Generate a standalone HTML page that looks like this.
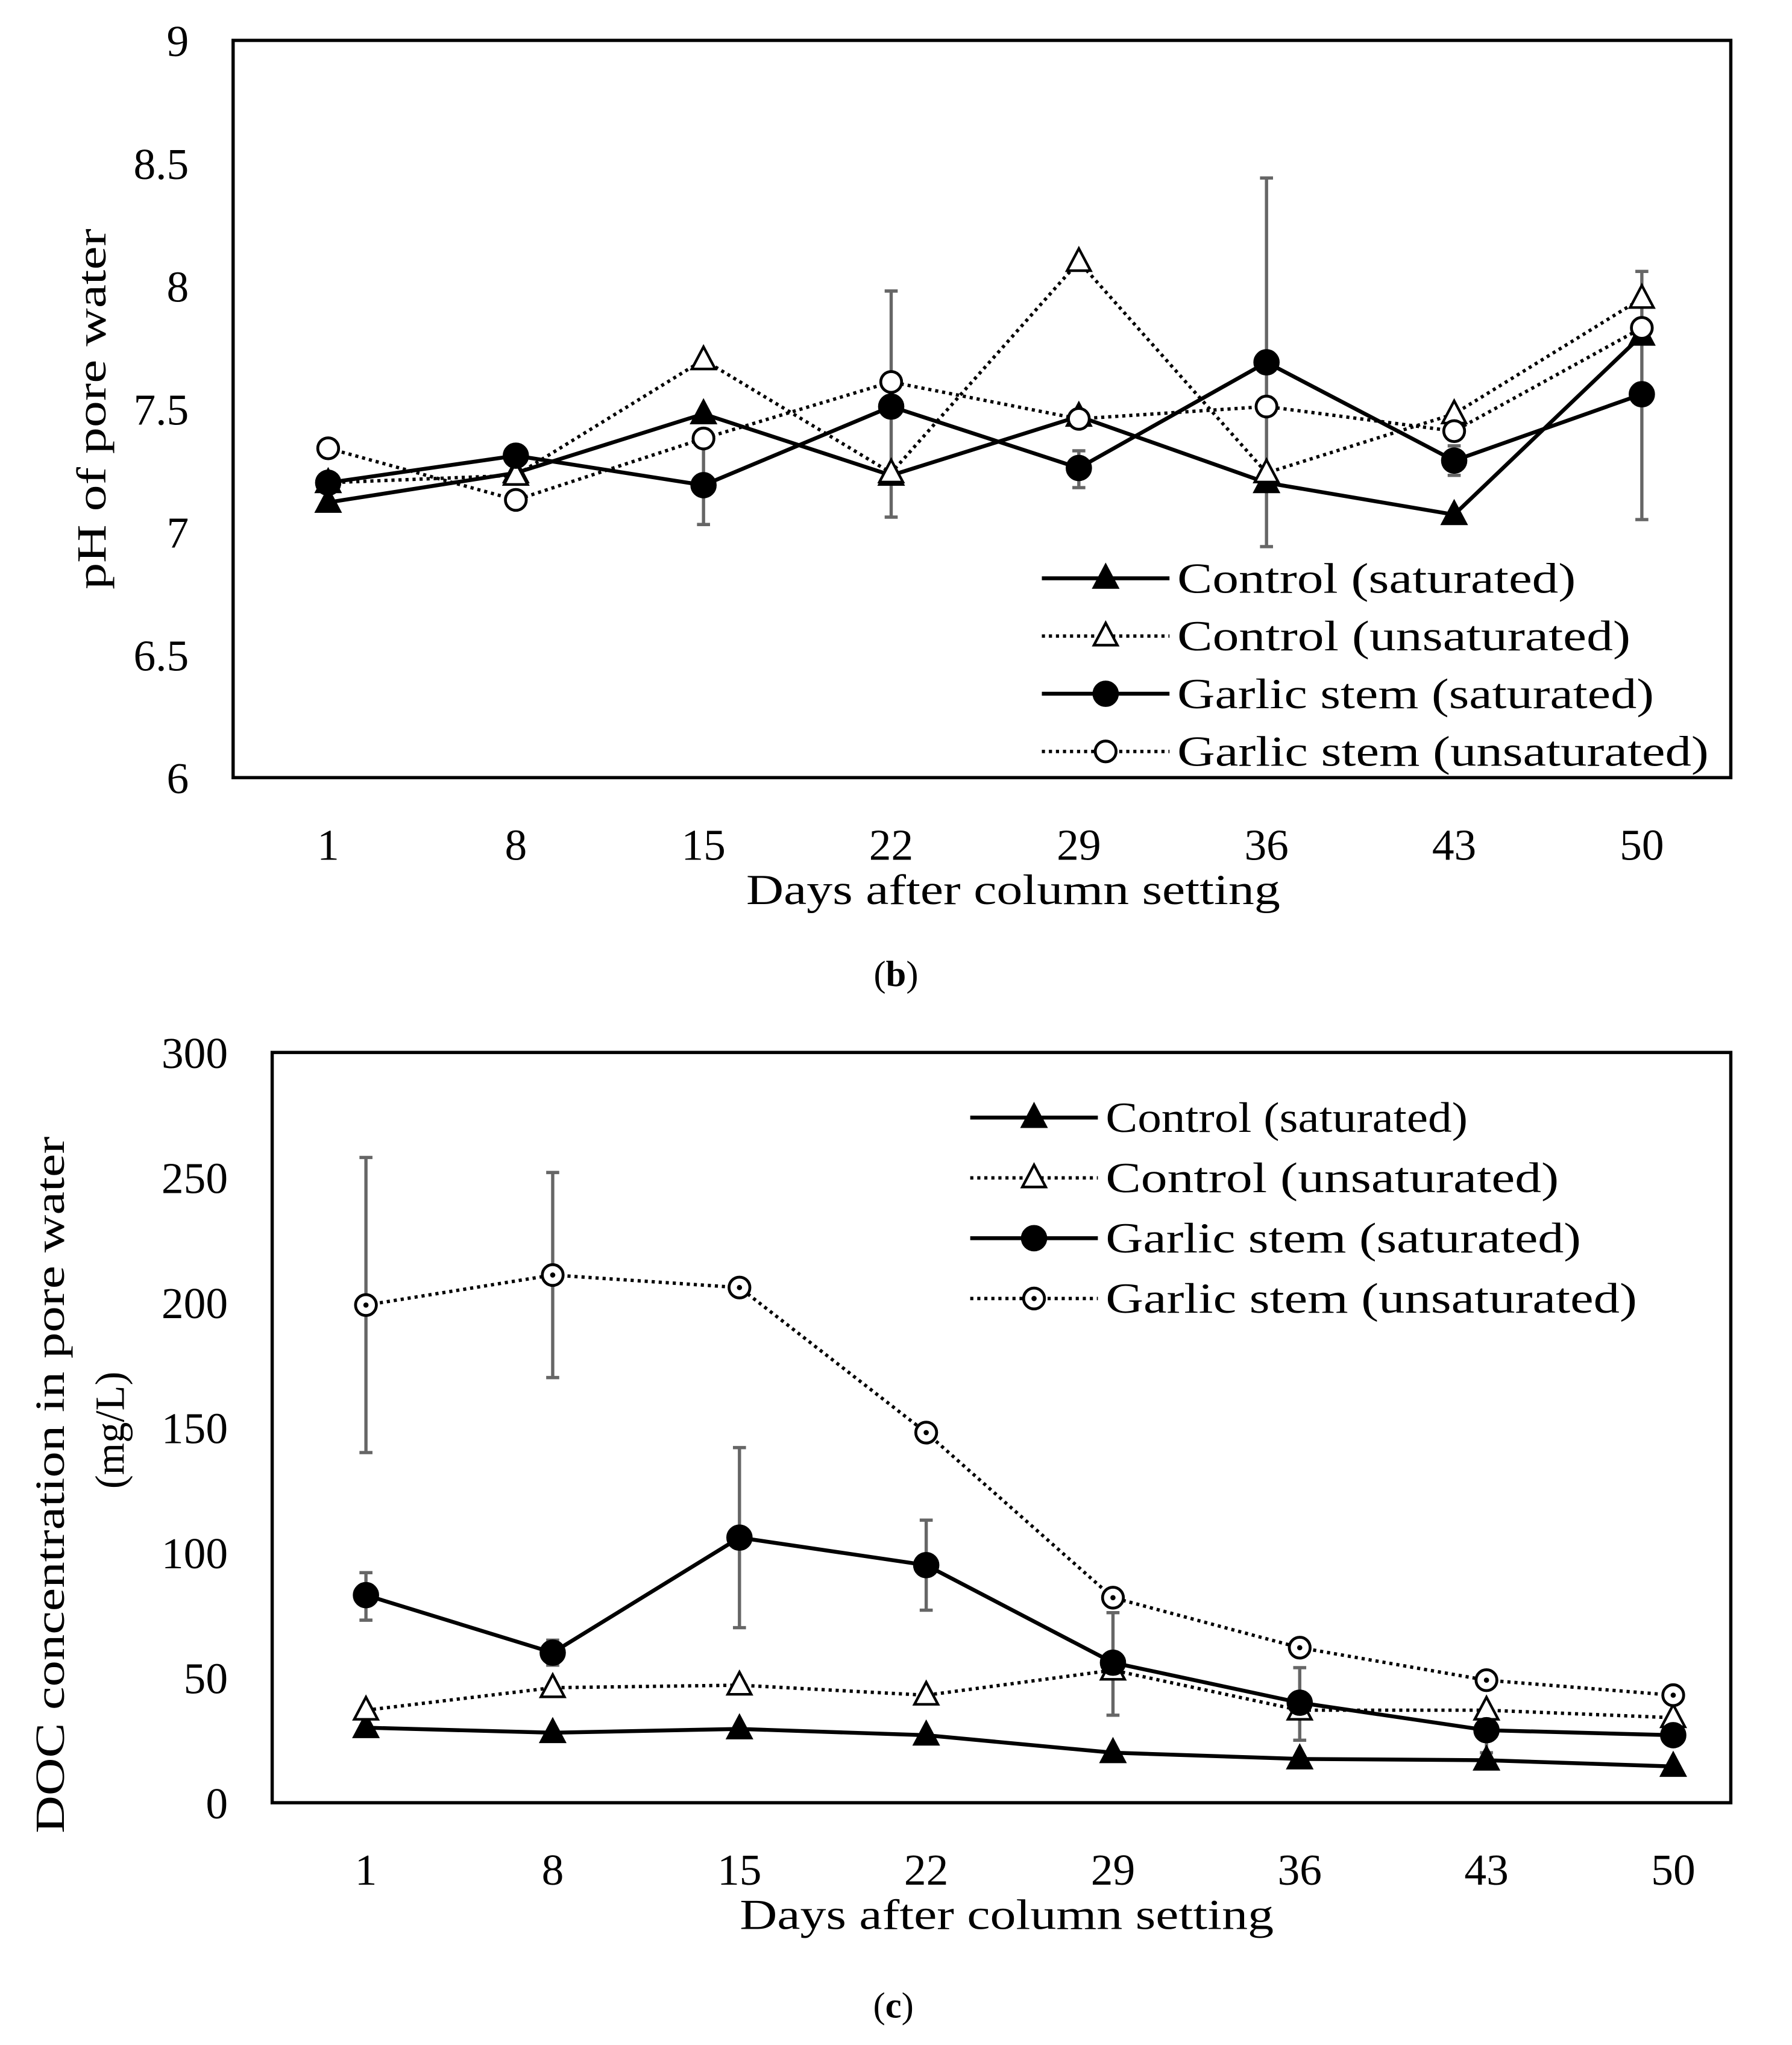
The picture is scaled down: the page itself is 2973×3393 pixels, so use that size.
<!DOCTYPE html>
<html><head><meta charset="utf-8"><style>
html,body{margin:0;padding:0;background:#fff;}
svg{display:block;}
text{font-family:"Liberation Serif",serif;fill:#000;}
</style></head><body>
<svg id="fig" xmlns="http://www.w3.org/2000/svg" width="2973" height="3393" viewBox="0 0 1376 1570" preserveAspectRatio="none"></svg>
<script>
const days = ["1","8","15","22","29","36","43","50"];
// chart b (pH)
const phTicks = [6,6.5,7,7.5,8,8.5,9];
const phTickLabels = ["6","6.5","7","7.5","8","8.5","9"];
const phControlSat = [7.12,7.24,7.48,7.23,7.47,7.2,7.07,7.8];
const phControlUnsat = [7.2,7.23,7.7,7.24,8.1,7.24,7.48,7.95];
const phGarlicSat = [7.2,7.31,7.19,7.51,7.26,7.69,7.29,7.56];
const phGarlicUnsat = [7.34,7.13,7.38,7.61,7.46,7.51,7.41,7.83];
const phErrIdx = [2,3,4,5,6,7];
const phErrLo = [7.03,7.06,7.18,6.94,7.23,7.05];
const phErrHi = [7.38,7.98,7.33,8.44,7.35,8.06];
// chart c (DOC)
const docTicks = [0,50,100,150,200,250,300];
const docTickLabels = ["0","50","100","150","200","250","300"];
const docControlSat = [30,28,29.5,27,20,17.5,17,14.5];
const docControlUnsat = [37,46,47,43,53,37,37,34];
const docGarlicSat = [83,60,106,95,56,40,29,27];
const docGarlicUnsat = [199,211,206,148,82,62,49,43];
const docErrIdx = [0,1,0,1,2,3,4,5,6];
const docErrLo = [140,170,73,55,70,77,35,25,20];
const docErrHi = [258,252,92,65,142,113,76,54,29];

const NS="http://www.w3.org/2000/svg";
const svg=document.getElementById('fig');
function mk(tag,attrs,parent){const e=document.createElementNS(NS,tag);for(const k in attrs)e.setAttribute(k,attrs[k]);(parent||svg).appendChild(e);return e;}

function marker(g,kind,x,y){
  let m;
  if(kind==='tri'||kind==='otri'){
    m=mk('polygon',{points:`${x},${y-10} ${x-9},${y+7} ${x+9},${y+7}`,fill:kind==='tri'?'#000':'#fff',stroke:'#000','stroke-width':2},g);
  } else {
    m=mk('circle',{cx:x,cy:y,r:kind==='circ'?9:8,fill:kind==='circ'?'#000':'#fff',stroke:'#000','stroke-width':2.2},g);
  }
  return m;
}

function chart(c){
  const g=mk('g',{});
  
  
  const xs=i=>c.x0+c.step*i;
  const ys=v=>c.B-(v-c.ymin)/(c.ymax-c.ymin)*(c.B-c.T);
  c.ticks.forEach((t,i)=>{
    const tx=mk('text',{x:c.L-34,y:ys(t)+12,'text-anchor':'end','font-size':34},g);
    tx.textContent=c.tickLabels[i];
    
    
  });
  days.forEach((d,i)=>{
    const tx=mk('text',{x:xs(i),y:c.B+63,'text-anchor':'middle','font-size':34},g);
    tx.textContent=d;
    
    
  });
  c.errIdx.forEach((idx,k)=>{
    const x=xs(idx),y1=ys(c.errLo[k]),y2=ys(c.errHi[k]);
    const eb=mk('path',{d:`M${x},${y1}V${y2}M${x-5},${y1}H${x+5}M${x-5},${y2}H${x+5}`,stroke:'#666','stroke-width':2.5,fill:'none'},g);
    
    
  });
  c.series.forEach(s=>{
    const pts=s.vals.map((v,i)=>`${xs(i)},${ys(v)}`).join(' ');
    const pl=mk('polyline',{points:pts,fill:'none',stroke:'#000','stroke-width':s.dot?2.6:3,'stroke-dasharray':s.dot?'2.4 3':'none'},g);
    
    
  });
  c.series.forEach(s=>{
    s.vals.forEach((v,i)=>{
      const m=marker(g,s.mk,xs(i),ys(v));
      
      
      if(s.mk==='ocirc'&&c.centerDot){mk('circle',{cx:xs(i),cy:ys(v),r:2,fill:'#000'},g);}
    });
  });
  const box=mk('rect',{x:c.L,y:c.T,width:c.R-c.L,height:c.B-c.T,fill:'none',stroke:'#000','stroke-width':2.5},g);
  
  
  c.series.forEach((s,i)=>{
    const ly=c.legY+i*c.legDy;
    const ln=mk('line',{x1:c.legX,y1:ly,x2:c.legX+98,y2:ly,stroke:'#000','stroke-width':s.dot?2.6:3,'stroke-dasharray':s.dot?'2.4 3':'none'},g);
    
    
    marker(g,s.mk,c.legX+49,ly);
    if(s.mk==='ocirc'&&c.centerDot){mk('circle',{cx:c.legX+49,cy:ly,r:2,fill:'#000'},g);}
    const tx=mk('text',{x:c.legX+104,y:ly+11,'font-size':33,textLength:c.legW[i],lengthAdjust:'spacingAndGlyphs'},g);
    tx.textContent=s.label;
    
    
  });
  const xt=mk('text',{x:c.titleX,y:c.B+97,'text-anchor':'middle','font-size':33,textLength:410,lengthAdjust:'spacingAndGlyphs'},g);
  xt.textContent='Days after column setting';
  
  
}

const labels=["Control (saturated)","Control (unsaturated)","Garlic stem (saturated)","Garlic stem (unsaturated)"];
chart({name:'ph-chart',L:179,R:1329,T:31,B:597,x0:252,step:144.1,ymin:6,ymax:9,ticks:phTicks,tickLabels:phTickLabels,
  errIdx:phErrIdx,errLo:phErrLo,errHi:phErrHi,legX:800,legY:444,legDy:44.3,centerDot:false,titleX:778,
  legW:[306,348,366,408],
  series:[{id:'control-saturated',vals:phControlSat,mk:'tri',dot:false,label:labels[0]},
          {id:'control-unsaturated',vals:phControlUnsat,mk:'otri',dot:true,label:labels[1]},
          {id:'garlic-saturated',vals:phGarlicSat,mk:'circ',dot:false,label:labels[2]},
          {id:'garlic-unsaturated',vals:phGarlicUnsat,mk:'ocirc',dot:true,label:labels[3]}]});
chart({name:'doc-chart',L:209,R:1329,T:808,B:1384,x0:281,step:143.4,ymin:0,ymax:300,ticks:docTicks,tickLabels:docTickLabels,
  errIdx:docErrIdx,errLo:docErrLo,errHi:docErrHi,legX:745,legY:858,legDy:46.3,centerDot:true,titleX:773,
  legW:[278,348,365,408],
  series:[{id:'control-saturated',vals:docControlSat,mk:'tri',dot:false,label:labels[0]},
          {id:'control-unsaturated',vals:docControlUnsat,mk:'otri',dot:true,label:labels[1]},
          {id:'garlic-saturated',vals:docGarlicSat,mk:'circ',dot:false,label:labels[2]},
          {id:'garlic-unsaturated',vals:docGarlicUnsat,mk:'ocirc',dot:true,label:labels[3]}]});

let t=mk('text',{x:0,y:0,'text-anchor':'middle','font-size':32,textLength:277,lengthAdjust:'spacingAndGlyphs',transform:'translate(81,314) rotate(-90)'});
t.textContent='pH of pore water';


t=mk('text',{x:0,y:0,'text-anchor':'middle','font-size':32,textLength:535,lengthAdjust:'spacingAndGlyphs',transform:'translate(49,1140) rotate(-90)'});
t.textContent='DOC concentration in pore water';


t=mk('text',{x:0,y:0,'text-anchor':'middle','font-size':32,textLength:90,lengthAdjust:'spacingAndGlyphs',transform:'translate(95,1098) rotate(-90)'});
t.textContent='(mg/L)';


t=mk('text',{x:688,y:757,'text-anchor':'middle','font-size':28});
t.innerHTML='(<tspan font-weight="bold">b</tspan>)';


t=mk('text',{x:686,y:1549,'text-anchor':'middle','font-size':28});
t.innerHTML='(<tspan font-weight="bold">c</tspan>)';


</script>
</body></html>
